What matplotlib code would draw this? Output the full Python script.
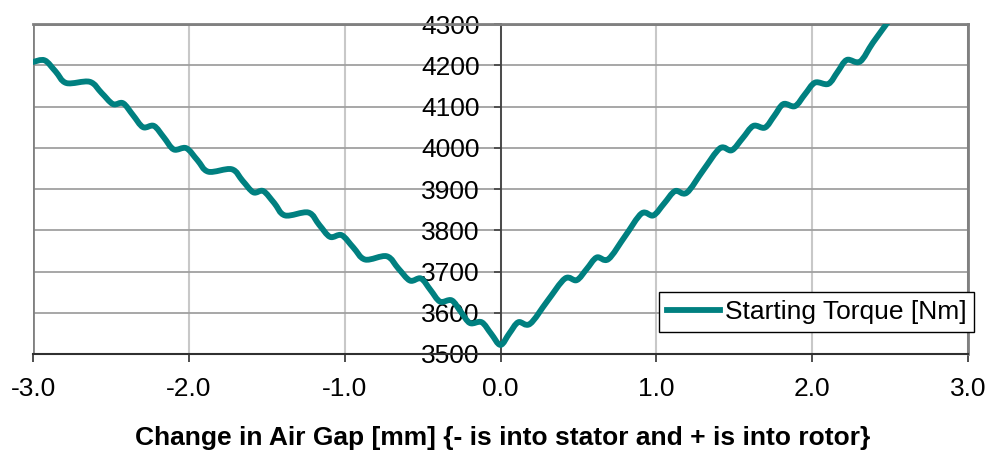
import numpy as np
import matplotlib
matplotlib.use("Agg")
import matplotlib.pyplot as plt
from matplotlib.path import Path
from matplotlib.patches import PathPatch, Rectangle
from matplotlib.lines import Line2D

plt.rcParams['font.family'] = ['Liberation Sans', 'DejaVu Sans']
plt.rcParams['axes.unicode_minus'] = False

# air gap change [mm] and starting torque [Nm]
gap = [-3.0, -2.925, -2.855, -2.786, -2.636, -2.56, -2.487, -2.422, -2.358,
       -2.294, -2.224, -2.16, -2.097, -2.016, -1.945, -1.875, -1.725, -1.655,
       -1.586, -1.522, -1.452, -1.383, -1.233, -1.163, -1.094, -1.019, -0.944,
       -0.869, -0.730, -0.655, -0.581, -0.510, -0.449, -0.388, -0.313, -0.254,
       -0.196, -0.121, -0.06, 0.0, 0.057, 0.114, 0.189, 0.30, 0.414, 0.489,
       0.553, 0.617, 0.692, 0.80, 0.906, 0.981, 1.05, 1.120, 1.195, 1.30,
       1.409, 1.484, 1.553, 1.622, 1.697, 1.756, 1.815, 1.890, 1.954, 2.018,
       2.104, 2.163, 2.222, 2.307, 2.39, 2.50]
torque = [4208, 4212, 4185, 4157, 4160, 4133, 4106, 4108, 4079,
          4050, 4053, 4025, 3996, 3999, 3970, 3942, 3948, 3920,
          3892, 3895, 3866, 3836, 3843, 3813, 3784, 3788, 3758,
          3729, 3737, 3707, 3678, 3683, 3655, 3627, 3630, 3602,
          3575, 3577, 3549, 3522, 3550, 3577, 3573, 3628, 3683, 3679,
          3706, 3734, 3730, 3786, 3841, 3836, 3865, 3895, 3891, 3945,
          3999, 3994, 4023, 4053, 4049, 4077, 4106, 4101, 4130, 4158,
          4155, 4184, 4213, 4209, 4255, 4312]

xticks = [-3.0, -2.0, -1.0, 0.0, 1.0, 2.0, 3.0]
yticks = [3500, 3600, 3700, 3800, 3900, 4000, 4100, 4200, 4300]

teal = '#008080'
fs = 19

fig = plt.figure(figsize=(9.91, 4.54), dpi=100)
ax = fig.add_axes([0.0333, 0.2203, 0.9435, 0.7267])

ax.set_xlim(-3, 3)
ax.set_ylim(3500, 4300)
ax.set_xticks(xticks)
ax.set_yticks(yticks)
ax.set_xticklabels([f"{v:.1f}" for v in xticks])

# grid
ax.yaxis.grid(True, color='#a0a0a0', lw=1.3)
ax.xaxis.grid(True, color='#c8c8c8', lw=1.5)
ax.set_axisbelow(True)

# y axis crosses at x = 0
ax.spines['left'].set_position(('data', 0))
ax.spines['left'].set_color('#404040')
ax.spines['left'].set_linewidth(1.3)
ax.spines['bottom'].set_color('#303030')
ax.spines['bottom'].set_linewidth(1.5)
for s in ['top', 'right']:
    ax.spines[s].set_color('#808080')
    ax.spines[s].set_linewidth(2)
ax.add_patch(Rectangle((0, 0), 1, 1, transform=ax.transAxes, fill=False,
                       edgecolor='#808080', lw=2, zorder=1.5))

ax.tick_params(axis='y', length=5, width=1.2, color='#404040', pad=10,
               labelsize=fs)
ax.tick_params(axis='x', length=6, width=1.2, color='#303030', pad=10.5,
               labelsize=fs)

# smoothed line (Excel style), built from the data points
pts = np.column_stack([gap, torque]).astype(float)
n = len(pts)
verts = [pts[0]]
codes = [Path.MOVETO]
for i in range(n - 1):
    p0 = pts[max(i - 1, 0)]
    p1 = pts[i]
    p2 = pts[i + 1]
    p3 = pts[min(i + 2, n - 1)]
    c1 = p1 + (p2 - p0) / 6
    c2 = p2 - (p3 - p1) / 6
    verts += [c1, c2, p2]
    codes += [Path.CURVE4] * 3
curve = PathPatch(Path(verts, codes), fill=False, edgecolor=teal, lw=4.2,
                  capstyle='round', joinstyle='round', zorder=3)
ax.add_patch(curve)

handle = Line2D([], [], color=teal, lw=4.2)
leg = fig.legend([handle], ['Starting Torque [Nm]'], loc='center',
                 bbox_to_anchor=(0.824, 0.312), fontsize=fs,
                 fancybox=False, framealpha=1, edgecolor='black',
                 handlelength=2.0, handletextpad=0.2, borderpad=0.3,
                 borderaxespad=0)
leg.get_frame().set_linewidth(1.0)

fig.text(0.5076, 0.035,
         'Change in Air Gap [mm] {- is into stator and + is into rotor}',
         ha='center', va='center', fontsize=19, fontweight='bold')

fig.savefig('out.png', dpi=100)
